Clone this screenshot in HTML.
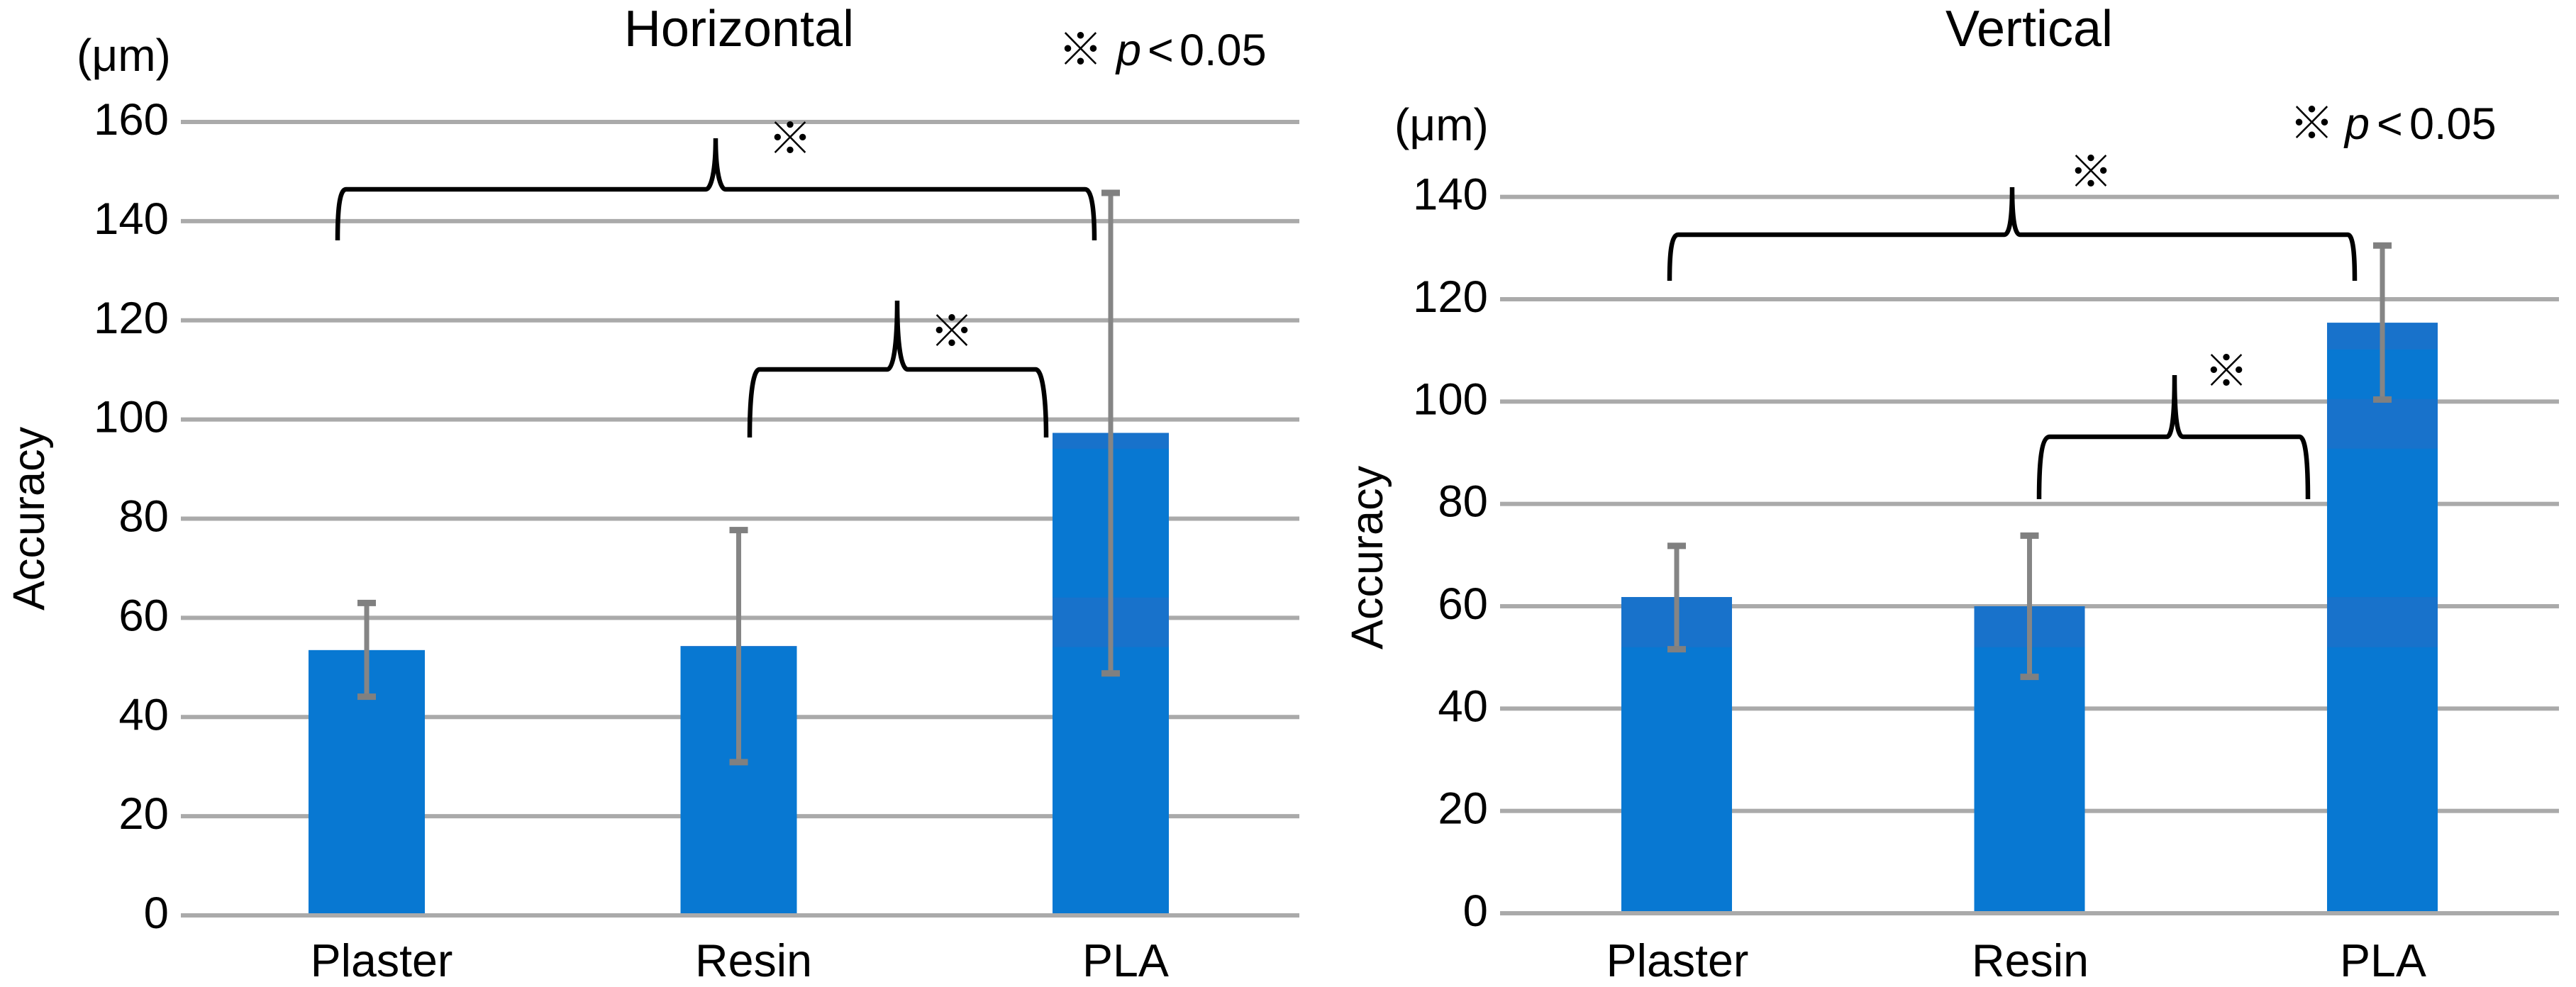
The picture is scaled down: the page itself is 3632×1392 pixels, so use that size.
<!DOCTYPE html>
<html lang="en">
<head>
<meta charset="utf-8">
<title>Accuracy: Horizontal and Vertical</title>
<style>
html,body{margin:0;padding:0;background:#fff;}
svg{display:block;}
text{font-family:"Liberation Sans","Noto Sans CJK JP",sans-serif;fill:#000;}
.brace{fill:none;stroke:#000;stroke-width:6.5;}
</style>
</head>
<body>
<svg id="figure" xmlns="http://www.w3.org/2000/svg" width="3632" height="1392" viewBox="0 0 3632 1392">
  <rect width="3632" height="1392" fill="#fff"/>
  <g id="chart-h"></g>
  <g id="chart-v"></g>

  <g>
    <path class="brace" d="M476,339 C476,300 478,267 488,267 L995,267 C1003,267 1009,240 1009,195 C1009,240 1015,267 1023,267 L1530,267 C1540,267 1543,300 1543,339"/>
    <path class="brace" d="M1057,617 C1057,570 1060,521 1071,521 L1251,521 C1259,521 1265,490 1265,424 C1265,490 1271,521 1280,521 L1460,521 C1471,521 1475,570 1475,617"/>
    <text x="1114" y="217" font-size="62" text-anchor="middle">※</text>
    <text x="1342" y="489" font-size="62" text-anchor="middle">※</text>
    <text x="1042" y="65" font-size="72" text-anchor="middle">Horizontal</text>
    <text x="108" y="100" font-size="64">(μm)</text>
    <text y="92" font-size="63"><tspan x="1492">※</tspan><tspan x="1574" font-style="italic">p</tspan><tspan x="1618">&lt;</tspan><tspan x="1663">0.05</tspan></text>
    <text transform="translate(62,861) rotate(-90)" font-size="63">Accuracy</text>
  </g>

  <g>
    <path class="brace" d="M2354,396 C2354,360 2356,331 2366,331 L2826,331 C2833,331 2837,310 2837,264 C2837,310 2841,331 2848,331 L3310,331 C3318,331 3320,360 3320,396"/>
    <path class="brace" d="M2875,704 C2875,660 2877,616 2890,616 L3055,616 C3062,616 3066,590 3066,529 C3066,590 3070,616 3078,616 L3242,616 C3252,616 3254,660 3254,704"/>
    <text x="2948" y="264" font-size="62" text-anchor="middle">※</text>
    <text x="3139" y="545" font-size="62" text-anchor="middle">※</text>
    <text x="2861" y="65" font-size="72" text-anchor="middle">Vertical</text>
    <text x="1966" y="198" font-size="64">(μm)</text>
    <text y="196" font-size="63"><tspan x="3228">※</tspan><tspan x="3306" font-style="italic">p</tspan><tspan x="3351">&lt;</tspan><tspan x="3397">0.05</tspan></text>
    <text transform="translate(1949,916) rotate(-90)" font-size="63">Accuracy</text>
  </g>
</svg>

<script>
const categories = ['Plaster', 'Resin', 'PLA'];

const horizontalTicks = [0, 20, 40, 60, 80, 100, 120, 140, 160];
const horizontalMeans = [53.5, 54.3, 97.3];
const horizontalErrorUpper = [63.0, 77.7, 145.7];
const horizontalErrorLower = [44.1, 30.9, 48.8];
const horizontalShadeBands = [[54.1, 64.1], [94.1, 103.0]];

const verticalTicks = [0, 20, 40, 60, 80, 100, 120, 140];
const verticalMeans = [61.8, 60.0, 115.4];
const verticalErrorUpper = [71.8, 73.8, 130.5];
const verticalErrorLower = [51.6, 46.2, 100.4];
const verticalShadeBands = [[52.0, 61.8], [90.8, 100.5], [110.2, 120.0]];

const SVG_NS = 'http://www.w3.org/2000/svg';

function node(tag, attrs, parent) {
  const el = document.createElementNS(SVG_NS, tag);
  Object.keys(attrs).forEach(function (k) { el.setAttribute(k, attrs[k]); });
  parent.appendChild(el);
  return el;
}

function drawChart(root, prefix, layout, ticks, means, upper, lower, bands) {
  const yScale = function (v) {
    return layout.yZero - (v / layout.yMax) * (layout.yZero - layout.yTop);
  };
  const xScale = function (i) {
    return layout.xFirst + i * layout.xStep;
  };

  ticks.forEach(function (t) {
    if (t === 0) return;
    const line = node('rect', { x: layout.gridLeft, y: yScale(t) - 3, width: layout.gridRight - layout.gridLeft, height: 6, fill: '#aaaaaa' }, root);
    
    
  });

  means.forEach(function (m, i) {
    const left = xScale(i) - layout.barWidth / 2;
    const bottom = yScale(0) - 3;
    const bar = node('rect', { x: left, y: yScale(m), width: layout.barWidth, height: bottom - yScale(m), fill: '#0878d2' }, root);
    
    

    bands.forEach(function (b, j) {
      const hi = Math.min(b[1], m);
      if (hi <= b[0]) return;
      const shade = node('rect', { x: left, y: yScale(hi), width: layout.barWidth, height: yScale(b[0]) - yScale(hi), fill: '#1872cb' }, root);
      
      
    });
  });

  const baseline = node('rect', { x: layout.gridLeft, y: yScale(0) - 3, width: layout.gridRight - layout.gridLeft, height: 6, fill: '#aaaaaa' }, root);
  
  

  means.forEach(function (m, i) {
    const cx = xScale(i);
    const stem = node('rect', { x: cx - 3.5, y: yScale(upper[i]), width: 7, height: yScale(lower[i]) - yScale(upper[i]), fill: '#858585' }, root);
    
    

    const capTop = node('rect', { x: cx - 13, y: yScale(upper[i]) - 4.5, width: 26, height: 9, fill: '#808080' }, root);
    
    

    const capBottom = node('rect', { x: cx - 13, y: yScale(lower[i]) - 4.5, width: 26, height: 9, fill: '#808080' }, root);
    
    

    const label = node('text', { x: cx + layout.labelOffset, y: 1377, 'font-size': 64.5, 'text-anchor': 'middle' }, root);
    
    
    label.textContent = categories[i];
  });

  ticks.forEach(function (t) {
    const tick = node('text', { x: layout.tickRight, y: yScale(t) + 18, 'font-size': 63.5, 'text-anchor': 'end' }, root);
    
    
    tick.textContent = String(t);
  });
}

drawChart(document.getElementById('chart-h'), 'horizontal',
  { yZero: 1291, yTop: 172, yMax: 160, xFirst: 517, xStep: 524.5, barWidth: 164, gridLeft: 255, gridRight: 1832, tickRight: 238, labelOffset: 21 },
  horizontalTicks, horizontalMeans, horizontalErrorUpper, horizontalErrorLower, horizontalShadeBands);

drawChart(document.getElementById('chart-v'), 'vertical',
  { yZero: 1288, yTop: 277.7, yMax: 140, xFirst: 2364, xStep: 497.5, barWidth: 156, gridLeft: 2115, gridRight: 3608, tickRight: 2098, labelOffset: 1 },
  verticalTicks, verticalMeans, verticalErrorUpper, verticalErrorLower, verticalShadeBands);
</script>
</body>
</html>
